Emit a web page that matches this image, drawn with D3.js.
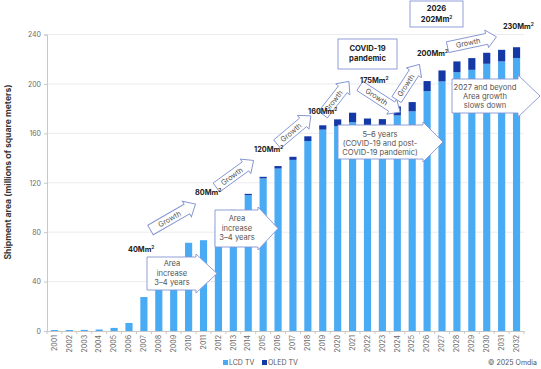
<!DOCTYPE html>
<html><head><meta charset="utf-8">
<script src="https://cdn.jsdelivr.net/npm/d3@7/dist/d3.min.js"></script>
<style>
html,body{margin:0;padding:0;background:#fff;}
svg{display:block;font-family:Inter,"Liberation Sans",sans-serif;}
</style></head>
<body><svg id="c" width="541" height="369"></svg>
<script>
const years = ["2001","2002","2003","2004","2005","2006","2007","2008","2009","2010","2011","2012","2013","2014","2015","2016","2017","2018","2019","2020","2021","2022","2023","2024","2025","2026","2027","2028","2029","2030","2031","2032"];
const lcd  = [0.8,0.8,0.9,1.2,2.5,6.5,27.5,40,50,71.4,73.5,85,97,110,123.5,131.5,138.5,153.8,163,165.7,169,162,161.5,174.5,177.8,194.2,202,209.5,211.4,216.3,218.2,221];
const oled = [0,0,0,0,0,0,0,0,0,0,0,0,1,1,1.3,2,2.5,3.8,3.5,5.6,7.7,10,10,7.3,7.5,8.1,8.9,8.7,9.5,8.9,9.4,8.7];
const yTicks = [0,40,80,120,160,200,240];
const seriesNames = ["LCD TV","OLED TV"];
const colors = {lcd:"#4aabf5", oled:"#1438a6"};

const svg = d3.select("#c");
const x = d3.scaleBand().domain(years).range([47,524]).paddingInner(0.52).paddingOuter(0.26);
const y = d3.scaleLinear().domain([0,240]).range([331,34.5]);

// grid
svg.append("g").selectAll("line").data(yTicks.filter(d=>d>0)).join("line")
  .attr("x1",47).attr("x2",524).attr("y1",d=>y(d)).attr("y2",d=>y(d))
  .attr("stroke","#ececec").attr("stroke-width",1);

// y axis
const ya = svg.append("g").attr("transform","translate(47,0)")
  .call(d3.axisLeft(y).tickValues(yTicks).tickSize(3).tickPadding(3));
ya.select(".domain").attr("stroke","#c8c8c8");
ya.selectAll(".tick line").attr("stroke","#c8c8c8");
ya.selectAll("text").attr("font-size",7).attr("fill","#6b6b6b").attr("font-family","Inter,sans-serif");

// bars
const stackData = years.map((yr,i)=>({yr, lcd:lcd[i], oled:oled[i]}));
svg.append("g").selectAll("rect").data(stackData).join("rect")
  .attr("x",d=>x(d.yr)).attr("width",x.bandwidth())
  .attr("y",d=>y(d.lcd)).attr("height",d=>y(0)-y(d.lcd)).attr("fill",colors.lcd);
svg.append("g").selectAll("rect").data(stackData.filter(d=>d.oled>0)).join("rect")
  .attr("x",d=>x(d.yr)).attr("width",x.bandwidth())
  .attr("y",d=>y(d.lcd+d.oled)).attr("height",d=>y(d.lcd)-y(d.lcd+d.oled)).attr("fill",colors.oled);

// x axis
const xa = svg.append("g").attr("transform","translate(0,331)")
  .call(d3.axisBottom(x).tickSize(0).tickPadding(6));
xa.select(".domain").attr("stroke","#c8c8c8");
xa.selectAll("text").attr("font-size",7).attr("fill","#6b6b6b").attr("font-family","Inter,sans-serif")
  .attr("transform","rotate(-90)").attr("text-anchor","end").attr("dx","-4").attr("y",0).attr("x",0).attr("dy","0.32em");
// band edge ticks
svg.append("g").selectAll("line").data(years.concat(["end"])).join("line")
  .attr("x1",(d,i)=>47+i*x.step()).attr("x2",(d,i)=>47+i*x.step())
  .attr("y1",331).attr("y2",334).attr("stroke","#c8c8c8");

// y title
svg.append("text").attr("transform","translate(11,172) rotate(-90)")
  .attr("text-anchor","middle").attr("font-size",8.6).attr("font-weight","bold").attr("fill","#333")
  .text("Shipment area (millions of square meters)");

// legend
const leg = svg.append("g");
[[223,colors.lcd,seriesNames[0]],[262,colors.oled,seriesNames[1]]].forEach(([lx,c,t])=>{
  leg.append("rect").attr("x",lx).attr("y",360).attr("width",5).attr("height",5).attr("fill",c);
  leg.append("text").attr("x",lx+6).attr("y",365).attr("font-size",7).attr("fill","#555").text(t);
});
svg.append("text").attr("x",537).attr("y",365).attr("text-anchor","end").attr("font-size",7).attr("fill","#555").text("© 2025 Omdia");

// annotations
const stroke = "#8494d4";
const ag = svg.append("g");

function areaText(sel, base){
  sel.append("tspan").text(base);
  sel.append("tspan").attr("font-size",4.8).attr("dy",-3.2).text("2");
}
function label(lx, ly, base){
  const t = ag.append("text").attr("x",lx).attr("y",ly).attr("font-size",7.3).attr("font-weight","bold").attr("fill","#222");
  areaText(t, base);
}
function multiline(cx, ys, lines, opt={}){
  const t = ag.append("text").attr("text-anchor","middle").attr("font-size",opt.fs||7.6)
    .attr("fill",opt.fill||"#555").attr("font-weight",opt.bold?"bold":"normal");
  lines.forEach((l,i)=>{
    if (typeof l === "object") {
      const ts = t.append("tspan").attr("x",cx).attr("y",ys[i]);
      ts.append("tspan").text(l.base);
      t.append("tspan").attr("font-size",4.8).attr("dy",-3.2).text("2");
    } else t.append("tspan").attr("x",cx).attr("y",ys[i]).text(l);
  });
}
function callout(x0,x1,y0,y1,tip,d){
  const ym=(y0+y1)/2;
  ag.append("path").attr("d",`M${x0},${y0}H${x1}V${y0-d}L${tip},${ym}L${x1},${y1+d}V${y1}H${x0}Z`)
    .attr("fill","#fff").attr("stroke",stroke).attr("stroke-width",0.9);
}
function box(x0,x1,y0,y1){
  ag.append("rect").attr("x",x0).attr("y",y0).attr("width",x1-x0).attr("height",y1-y0)
    .attr("fill","#fff").attr("stroke",stroke).attr("stroke-width",0.9);
}
function growth(cx,cy,L,ang){
  const s=5.5,h=9,hl=10;
  const g = ag.append("g").attr("transform",`translate(${cx},${cy}) rotate(${ang})`);
  g.append("path").attr("d",`M${-L/2},${-s}H${L/2-hl}V${-h}L${L/2},0L${L/2-hl},${h}V${s}H${-L/2}Z`)
    .attr("fill","#fff").attr("stroke",stroke).attr("stroke-width",0.9);
  g.append("text").attr("x",-hl/2+1).attr("y",2.6).attr("text-anchor","middle").attr("font-size",7.3).attr("fill","#555").text("Growth");
}

growth(173,217,52,-30);
growth(235,174,46,-36);
growth(294,130,44,-40);
growth(336,98,42,-52);
growth(380,99,48,33);
growth(408,82,42,-57);
growth(472,42,50,-12);

label(128,252,"40Mm");
label(195,195,"80Mm");
label(254,152,"120Mm");
label(308,114,"160Mm");
label(360,83,"175Mm");
label(417,56,"200Mm");
label(503,29,"230Mm");

callout(147,196,257,290,217,3);
multiline(172,[266,276,285],["Area","increase","3–4 years"]);
callout(215,258,210,247,278,3);
multiline(237,[221,231,240],["Area","increase","3–4 years"]);
callout(338,423,125,159,443,3);
multiline(380,[137,146,155],["5–6 years","(COVID-19 and post-","COVID-19 pandemic)"]);
callout(452,518,79,113,540,4);
multiline(485,[90,99,108],["2027 and beyond","Area growth","slows down"]);

box(338,397,39,69);
multiline(367.5,[51,61],["COVID-19","pandemic"],{bold:true,fill:"#222",fs:7.6});
box(410,463,1,27);
multiline(436.5,[11,22],["2026",{base:"202Mm"}],{bold:true,fill:"#222",fs:7.6});
</script></body></html>
